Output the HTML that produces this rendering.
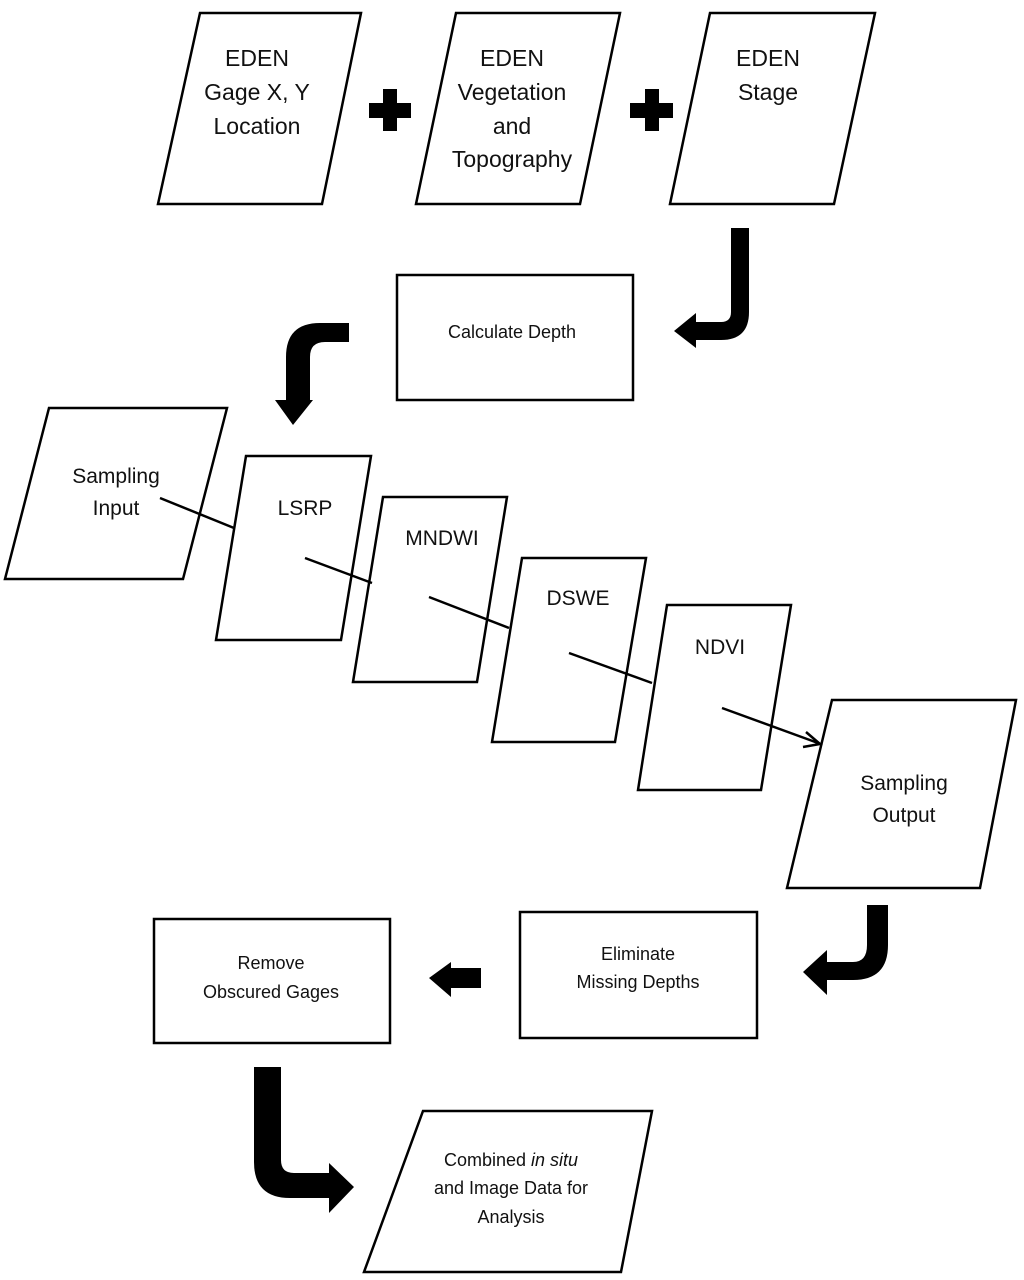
<!DOCTYPE html>
<html><head><meta charset="utf-8"><style>html,body{margin:0;padding:0;background:#fff}svg{display:block}text{font-family:"Liberation Sans",sans-serif;fill:#111;text-anchor:middle}</style></head><body>
<svg width="1024" height="1280" viewBox="0 0 1024 1280" xmlns="http://www.w3.org/2000/svg">
<g fill="#fff" stroke="#000" stroke-width="2.5">
<polygon points="200,13 361,13 322,204 158,204"/>
<polygon points="456,13 620,13 580,204 416,204"/>
<polygon points="710,13 875,13 834,204 670,204"/>
<rect x="397" y="275" width="236" height="125"/>
<polygon points="49,408 227,408 183,579 5,579"/>
<polygon points="246,456 371,456 341,640 216,640"/>
<polygon points="383,497 507,497 477,682 353,682"/>
<polygon points="522,558 646,558 615,742 492,742"/>
<polygon points="667,605 791,605 761,790 638,790"/>
<polygon points="832,700 1016,700 980,888 787,888"/>
<rect x="520" y="912" width="237" height="126"/>
<rect x="154" y="919" width="236" height="124"/>
<polygon points="423,1111 652,1111 621,1272 364,1272"/>
</g>
<g stroke="#000" stroke-width="2.5" fill="none">
<line x1="160" y1="498" x2="234" y2="528"/>
<line x1="305" y1="558" x2="372" y2="583"/>
<line x1="429" y1="597" x2="509" y2="628"/>
<line x1="569" y1="653" x2="652" y2="683"/>
<line x1="722" y1="708" x2="818" y2="743"/>
<polyline points="806,732 820,744 803,747"/>
</g>
<g fill="#000">
<!-- plus signs -->
<rect x="369" y="103" width="42" height="15"/><rect x="383" y="89" width="14" height="42"/>
<rect x="630" y="103" width="43" height="15"/><rect x="645" y="89" width="14" height="42"/>
<!-- arrow 1 -->
<path d="M731,228 L749,228 L749,312 Q749,340 721,340 L696,340 L696,348 L674,331 L696,313 L696,322 L721,322 Q731,322 731,312 Z"/>
<!-- arrow 2 -->
<path d="M349,323 L349,342 L325,342 Q310,342 310,357 L310,400 L313,400 L293,425 L275,400 L286,400 L286,357 Q286,323 320,323 Z"/>
<!-- arrow from sampling output -->
<path d="M867,905 L888,905 L888,945 Q888,980 853,980 L827,980 L827,995 L803,972 L827,950 L827,962 L853,962 Q867,962 867,945 Z"/>
<!-- left arrow -->
<path d="M481,968 L481,988 L451,988 L451,997 L429,978 L451,962 L451,968 Z"/>
<!-- big bottom arrow -->
<path d="M254,1067 L281,1067 L281,1160 Q281,1173 294,1173 L329,1173 L329,1163 L354,1187 L329,1213 L329,1198 L290,1198 Q254,1198 254,1162 Z"/>
</g>
<g font-size="23">
<text x="257" y="66">EDEN</text><text x="257" y="100">Gage X, Y</text><text x="257" y="134">Location</text>
<text x="512" y="66">EDEN</text><text x="512" y="100">Vegetation</text><text x="512" y="134">and</text><text x="512" y="167">Topography</text>
<text x="768" y="66">EDEN</text><text x="768" y="100">Stage</text>
</g>
<text x="512" y="338" font-size="18">Calculate Depth</text>
<g font-size="21">
<text x="116" y="483">Sampling</text><text x="116" y="515">Input</text>
<text x="305" y="515">LSRP</text>
<text x="442" y="545">MNDWI</text>
<text x="578" y="605">DSWE</text>
<text x="720" y="654">NDVI</text>
<text x="904" y="790">Sampling</text><text x="904" y="822">Output</text>
</g>
<g font-size="18">
<text x="638" y="960">Eliminate</text><text x="638" y="988">Missing Depths</text>
<text x="271" y="969">Remove</text><text x="271" y="998">Obscured Gages</text>
<text x="511" y="1166">Combined <tspan font-style="italic">in situ</tspan></text>
<text x="511" y="1194">and Image Data for</text>
<text x="511" y="1223">Analysis</text>
</g>
</svg>
</body></html>
